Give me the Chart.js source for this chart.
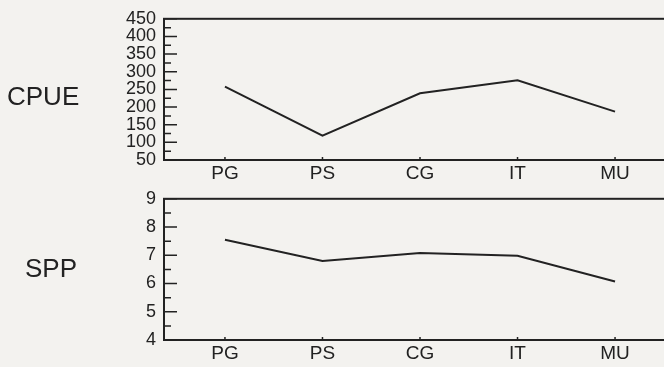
<!DOCTYPE html>
<html>
<head>
<meta charset="utf-8">
<script src="https://cdn.jsdelivr.net/npm/chart.js@4"></script>
<style>
  html, body { margin: 0; padding: 0; }
  body { width: 664px; height: 367px; overflow: hidden; background: #f3f2ef; position: relative;
         font-family: "Liberation Sans", Arial, sans-serif; color: #222; }
  .panel { position: absolute; left: 0; width: 676px; height: 190px; }
  .panel canvas { display: block; }
  .name { position: absolute; font-size: 26px; line-height: 1; }
</style>
</head>
<body>
<div class="panel" style="top:0"><canvas id="cpueChart" width="676" height="190"></canvas></div>
<div class="panel" style="top:180px"><canvas id="sppChart" width="676" height="190"></canvas></div>
<div class="name" style="left:7px; top:83px">CPUE</div>
<div class="name" style="left:25px; top:255px">SPP</div>
<script>
// Data
const categories = ['PG', 'PS', 'CG', 'IT', 'MU'];
const cpueValues = [258, 119, 239, 276, 187];
const sppValues = [7.55, 6.8, 7.08, 6.98, 6.07];
const cpueAxis = [50, 450, 50];   // min, max, step
const sppAxis = [4, 9, 1];

const ink = '#222';
const font = { family: '"Liberation Sans", Arial, sans-serif', size: 18 };

// box around plot area + inward tick marks
const framePlugin = {
  id: 'frame',
  afterDraw(chart) {
    const { ctx, chartArea: a, scales: { x, y } } = chart;
    const step = y.options.ticks.stepSize;
    ctx.save();
    ctx.strokeStyle = ink;
    ctx.lineWidth = 2;
    ctx.strokeRect(a.left, a.top, a.right - a.left, a.bottom - a.top);
    ctx.lineWidth = 1.5;
    ctx.beginPath();
    for (let k = 0; y.min + k * step / 2 <= y.max; k++) {
      const py = y.getPixelForValue(y.min + k * step / 2);
      const len = k % 2 === 0 ? 13 : 7;
      ctx.moveTo(a.left, py);
      ctx.lineTo(a.left + len, py);
    }
    categories.forEach((c, i) => {
      const px = x.getPixelForValue(i);
      ctx.moveTo(px, a.bottom);
      ctx.lineTo(px, a.bottom - 3);
    });
    ctx.stroke();
    ctx.restore();
  }
};

function makeChart(id, values, axis, topPad) {
  const ctx = document.getElementById(id).getContext('2d');
  return new Chart(ctx, {
    type: 'line',
    data: {
      datasets: [{
        data: values.map((v, i) => ({ x: i, y: v })),
        borderColor: ink,
        borderWidth: 2,
        pointRadius: 0,
        tension: 0,
        fill: false
      }]
    },
    options: {
      responsive: false,
      animation: false,
      layout: { padding: { top: topPad, left: 0, right: 0, bottom: 0 } },
      plugins: { legend: { display: false }, tooltip: { enabled: false } },
      scales: {
        x: {
          type: 'linear',
          min: -0.625,
          max: 4.625,
          afterBuildTicks: s => { s.ticks = categories.map((c, i) => ({ value: i })); },
          afterFit: s => { s.height = 30; },
          grid: { display: false, drawTicks: false },
          border: { display: false },
          ticks: { callback: v => categories[v], color: ink, font: { ...font, size: 19 }, padding: 2, maxRotation: 0, autoSkip: false }
        },
        y: {
          min: axis[0],
          max: axis[1],
          afterFit: s => { s.width = 164; },
          grid: { display: false, drawTicks: false },
          border: { display: false },
          ticks: { stepSize: axis[2], color: ink, font: font, padding: 8, autoSkip: false }
        }
      }
    },
    plugins: [framePlugin]
  });
}

makeChart('cpueChart', cpueValues, cpueAxis, 16);
makeChart('sppChart', sppValues, sppAxis, 15);
</script>
</body>
</html>
